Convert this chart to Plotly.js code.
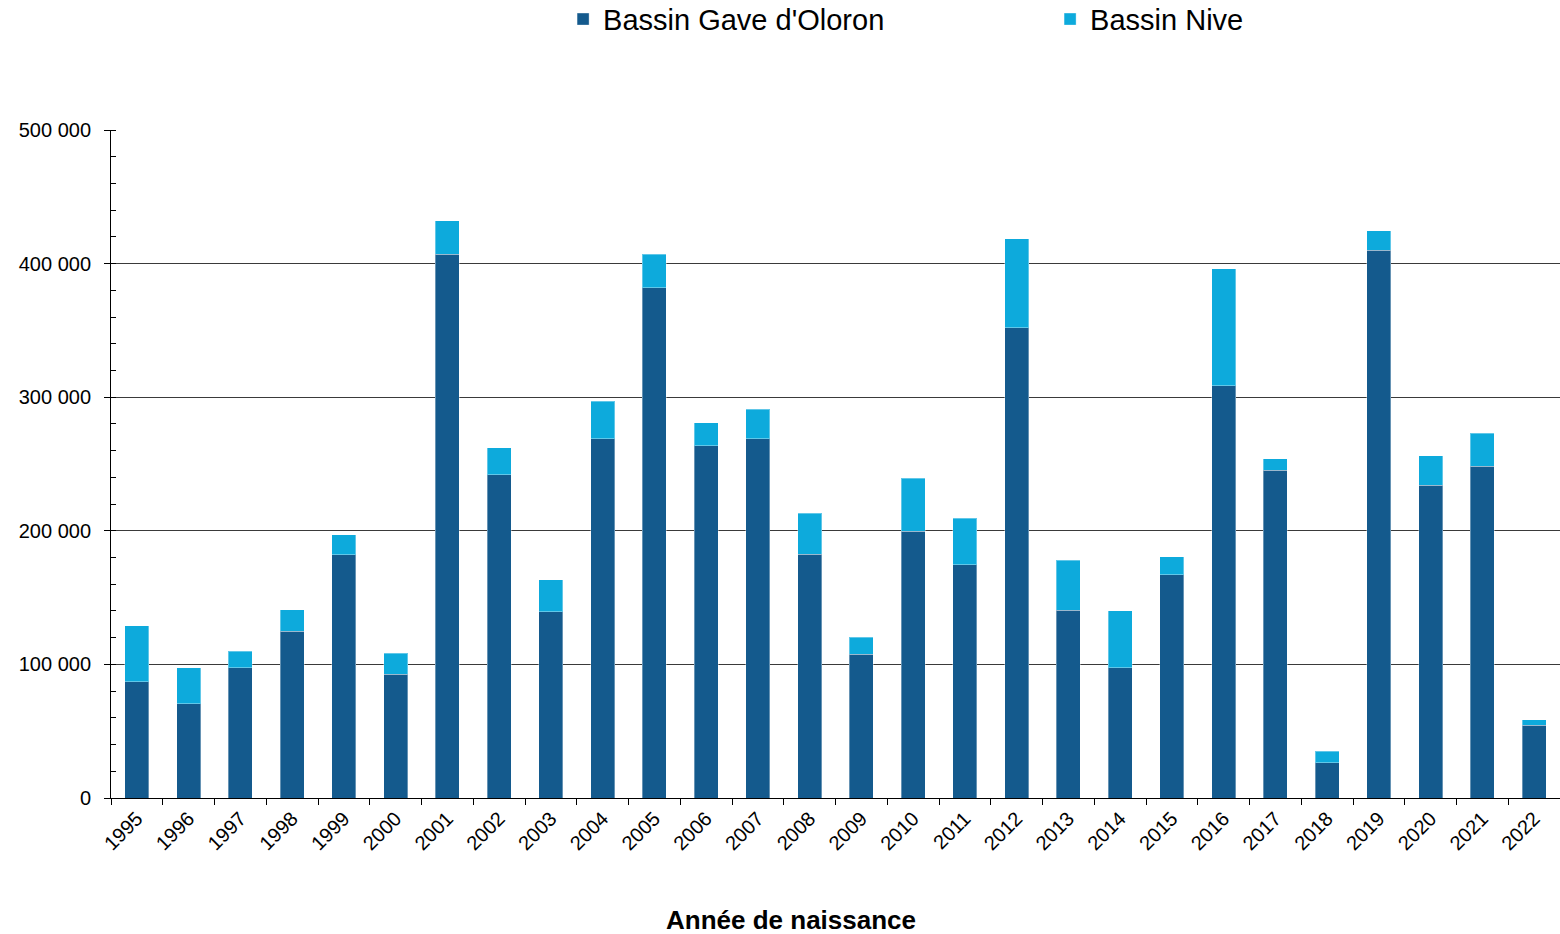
<!DOCTYPE html>
<html>
<head>
<meta charset="utf-8">
<script src="https://cdn.plot.ly/plotly-3.0.1.min.js"></script>
<style>html,body{margin:0;padding:0;background:#fff;}#chart{width:1560px;height:934px;}</style>
</head>
<body>
<div id="chart"></div>
<script>
const years = ["1995","1996","1997","1998","1999","2000","2001","2002","2003","2004","2005","2006","2007","2008","2009","2010","2011","2012","2013","2014","2015","2016","2017","2018","2019","2020","2021","2022"];
const gaveOloron = [87000,70500,97500,125000,182000,92500,407000,242000,139500,269000,382000,263500,269000,182500,107500,199500,174500,352000,140500,97500,167000,308500,245500,26500,410000,234000,248500,54500];
const nive = [42000,27000,12500,16000,15000,16000,25000,20000,24000,28000,25000,17500,22000,30500,13000,40000,35000,66500,37500,42500,13500,87500,8500,8500,14500,22000,24500,4000];
const seriesNames = ["Bassin Gave d'Oloron", "Bassin Nive"];
const xTitle = "Année de naissance";

const font = "Liberation Sans, Arial, sans-serif";
const traces = [
  {type:'bar', name: seriesNames[0], x: years, y: gaveOloron,
   marker:{color:'#145A8D', line:{color:'rgba(255,255,255,0.35)', width:1}}},
  {type:'bar', name: seriesNames[1], x: years, y: nive,
   marker:{color:'#0DAADC', line:{color:'rgba(255,255,255,0.35)', width:1}}}
];
const layout = {
  width:1560, height:934,
  margin:{l:111, r:0, t:130, b:136, autoexpand:false},
  barmode:'stack', bargap:0.54,
  paper_bgcolor:'#fff', plot_bgcolor:'#fff',
  separators:', ',
  font:{family:font, size:20, color:'#000'},
  showlegend:true,
  legend:{orientation:'h', x:0.312, xanchor:'left', y:1.204, yanchor:'top',
          font:{family:font, size:29, color:'#000'}, entrywidth:442, entrywidthmode:'pixels',
          traceorder:'normal', itemclick:false},
  xaxis:{type:'category', tickangle:-45, ticks:'outside', tickson:'boundaries', ticklen:6,
         tickcolor:'#000', showline:true, linecolor:'#000', linewidth:1, showgrid:false,
         tickfont:{family:font, size:20, color:'#000'},
         automargin:false},
  yaxis:{range:[0,500000], dtick:100000, tickformat:',d', ticks:'outside', ticklen:6, tickcolor:'#000',
         ticklabelstandoff:9,
         showline:true, linecolor:'#000', linewidth:1, showgrid:true, gridcolor:'#3a3a3a', gridwidth:1,
         zeroline:false,
         minor:{ticks:'inside', dtick:20000, ticklen:5, tickcolor:'#000', showgrid:false},
         tickfont:{family:font, size:20, color:'#000'}, automargin:false},
  annotations:[{text:'<b>'+xTitle+'</b>', xref:'paper', yref:'paper', x:0.469, y:-0.1826,
                xanchor:'center', yanchor:'middle', showarrow:false,
                font:{family:font, size:26, color:'#000'}}]
};
Plotly.newPlot('chart', traces, layout, {displayModeBar:false, staticPlot:true});
</script>
</body>
</html>
